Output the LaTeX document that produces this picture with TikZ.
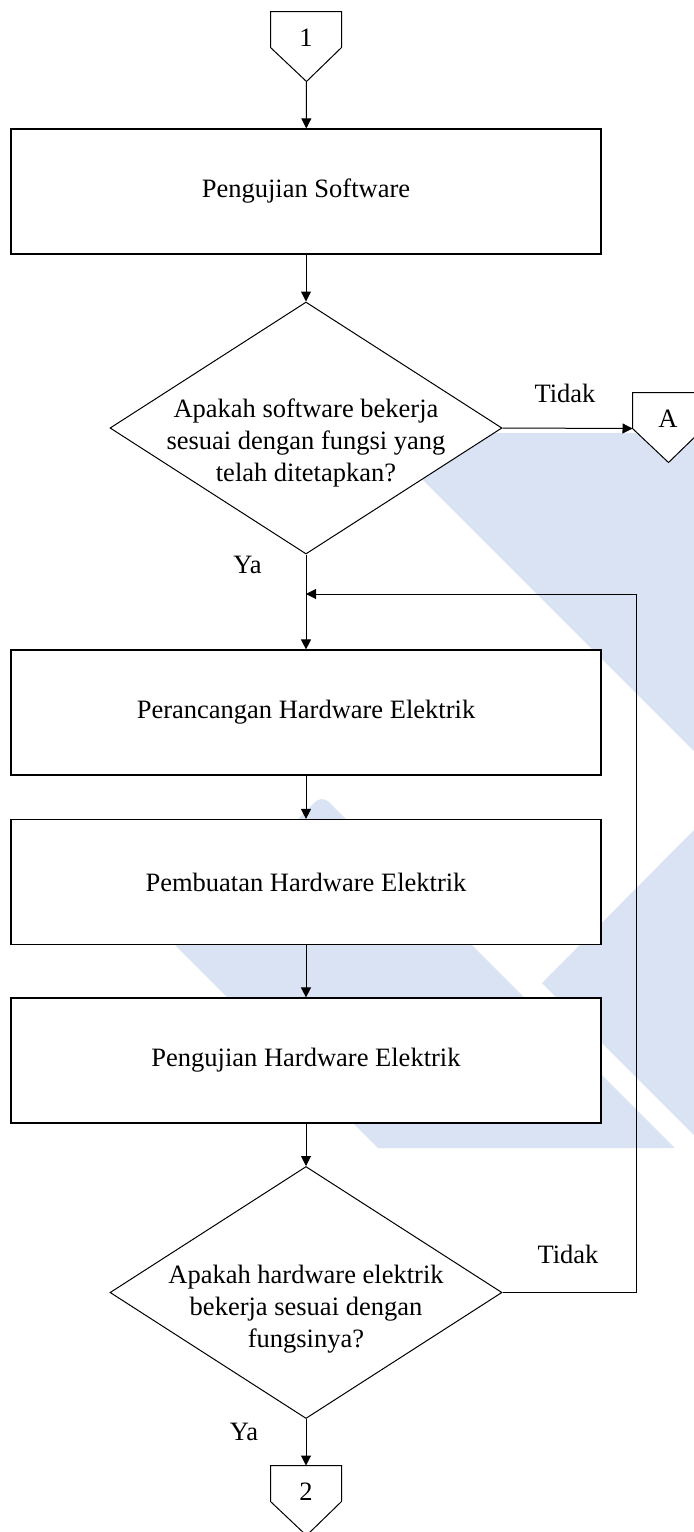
\documentclass[tikz,border=0pt]{standalone}
\usepackage{fontspec}
\setmainfont{Liberation Serif}
\usetikzlibrary{shapes.geometric,arrows.meta}

\definecolor{markblue}{RGB}{218,227,243}

\begin{document}
\begin{tikzpicture}[x=0.5pt,y=-0.5pt,
  font=\fontsize{13.25}{15.85}\selectfont,
  line width=0.5pt,
  arr/.style={-{Triangle[length=5pt,width=5pt]}},
  procbox/.style={draw, fill=white, line width=0.6pt, rectangle,
    minimum width=295pt, minimum height=62.5pt, inner sep=0pt},
  decision/.style={draw, fill=white, diamond,
    minimum width=196pt, minimum height=126pt, inner sep=0pt},
  connbody/.style={rectangle, minimum width=35pt, minimum height=17.5pt, inner sep=0pt},
  connline/.style={draw, fill=white, line width=0.5pt},
  lbl/.style={anchor=base, inner sep=0pt},
  dtext/.style={align=center, inner sep=0pt},
]
\useasboundingbox (0,0) rectangle (694,1532);

% logo in the background
\fill[markblue] (376,433) -- (694,433) -- (694,751) -- cycle;
\fill[markblue] (694,830) -- (542,983) -- (694,1135) -- cycle;
\fill[markblue] (173.5,943.5) [rounded corners=5pt] -- (322,795) [sharp corners] -- (675,1148) -- (378,1148) -- cycle;

% off-page connector 1
\node[connbody] (c1) at (306,29.5) {};
\draw[connline] (c1.north west) -- (c1.north east) -- (c1.south east)
  -- ++(-35,34) coordinate (c1tip) -- (c1.south west) -- cycle;
\node[lbl] (c1t) at ([yshift=0.3pt]c1.south) {1};

% process boxes and decisions
\node[procbox] (b1) at (306,191.5) {Pengujian Software};

\node[decision] (d1) at (306,428) {};
\node[dtext] (d1t) at (306,443) {Apakah software bekerja\\sesuai dengan fungsi yang\\telah ditetapkan?};

% off-page connector A
\node[connbody] (ca) at (668,410.5) {};
\draw[connline] (ca.north west) -- (ca.north east) -- (ca.south east)
  -- ++(-35,34) coordinate (catip) -- (ca.south west) -- cycle;
\node[lbl] (cat) at ([yshift=0.3pt]ca.south) {A};

\node[procbox] (b2) at (306,712.5) {Perancangan Hardware Elektrik};
\node[procbox] (b3) at (306,882) {Pembuatan Hardware Elektrik};
\node[procbox] (b4) at (306,1060.5) {Pengujian Hardware Elektrik};

\node[decision] (d2) at (306,1292.5) {};
\node[dtext] (d2t) at (306,1309) {Apakah hardware elektrik\\bekerja sesuai dengan\\fungsinya?};

% off-page connector 2
\node[connbody] (c2) at (306,1483.5) {};
\draw[connline] (c2.north west) -- (c2.north east) -- (c2.south east)
  -- ++(-35,34) coordinate (c2tip) -- (c2.south west) -- cycle;
\node[lbl] (c2t) at ([yshift=0.3pt]c2.south) {2};

% labels
\node[lbl] (t1) at (565,402) {Tidak};
\node[lbl] (y1) at (247.5,573.5) {Ya};
\node[lbl] (t2) at (568,1263) {Tidak};
\node[lbl] (y2) at (244,1440.7) {Ya};

% connectors
\coordinate (fbtop) at (636,594);
\coordinate (fbjoin) at (306,594);

\draw[arr] (c1tip) -- (b1);
\draw[arr] (b1) -- (d1);
\draw[arr] (d1.east) -- (ca.south west);
\draw[arr] (d1.south) -- (b2);
\draw[arr] (b2) -- (b3);
\draw[arr] (b3) -- (b4);
\draw[arr] (b4) -- (d2);
\draw[arr] (d2.south) -- (c2.north);
\draw[arr] (d2.east) -| (fbtop) -- (fbjoin);
\end{tikzpicture}
\end{document}
